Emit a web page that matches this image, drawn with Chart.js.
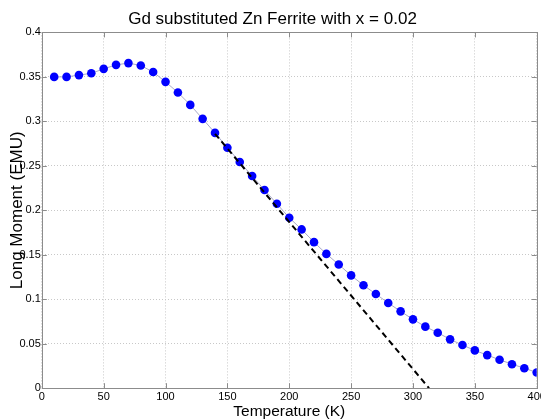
<!DOCTYPE html>
<html>
<head>
<meta charset="utf-8">
<script src="https://cdn.jsdelivr.net/npm/chart.js@4/dist/chart.umd.min.js"></script>
<style>
html,body{margin:0;padding:0;background:#fff;}
#wrap{width:541px;height:420px;position:relative;}
</style>
</head>
<body>
<div id="wrap"><canvas id="c" width="541" height="420"></canvas></div>
<script>
const temperatures = [10,20,30,40,50,60,70,80,90,100,110,120,130,140,150,160,170,180,190,200,210,220,230,240,250,260,270,280,290,300,310,320,330,340,350,360,370,380,390,400];
const moments = [0.350,0.350,0.352,0.354,0.359,0.3635,0.3655,0.3628,0.3554,0.3444,0.3324,0.3185,0.3028,0.287,0.2704,0.2543,0.2385,0.2228,0.2073,0.1916,0.1785,0.1642,0.151,0.139,0.1268,0.1157,0.1059,0.0958,0.0864,0.0774,0.0692,0.0624,0.0549,0.0485,0.0425,0.0372,0.032,0.027,0.0225,0.0177];
const fitX = [140, 313];
const fitY = [0.286, 0];
const xTicks = [0,50,100,150,200,250,300,350,400];
const yTicks = [0,0.05,0.1,0.15,0.2,0.25,0.3,0.35,0.4];
const titleText = 'Gd substituted Zn Ferrite with x = 0.02';
const xTitle = 'Temperature (K)';
const yTitle = 'Long Moment (EMU)';

const FONT = "'Liberation Sans', Arial, sans-serif";

const framePlugin = {
  id: 'frame',
  afterDatasetsDraw(chart) {
    const {ctx, chartArea: a} = chart;
    ctx.save();
    ctx.strokeStyle = '#8c8c8c';
    ctx.lineWidth = 1;
    ctx.strokeRect(Math.round(a.left)+0.5, Math.round(a.top)+0.5, Math.round(a.right-a.left), Math.round(a.bottom-a.top));
    const xs = chart.scales.x, ys = chart.scales.y;
    ctx.beginPath();
    xTicks.forEach(v => {
      const px = Math.round(xs.getPixelForValue(v))+0.5;
      ctx.moveTo(px, a.top); ctx.lineTo(px, a.top+5);
      ctx.moveTo(px, a.bottom); ctx.lineTo(px, a.bottom-5);
    });
    yTicks.forEach(v => {
      const py = Math.round(ys.getPixelForValue(v))+0.5;
      ctx.moveTo(a.left, py); ctx.lineTo(a.left+5, py);
      ctx.moveTo(a.right, py); ctx.lineTo(a.right-5, py);
    });
    ctx.stroke();
    ctx.restore();
  }
};

new Chart(document.getElementById('c'), {
  type: 'scatter',
  data: {
    datasets: [
      {
        data: temperatures.map((t, i) => ({x: t, y: moments[i]})),
        showLine: true,
        borderColor: '#a8a8c8',
        borderWidth: 1,
        pointRadius: 4.3,
        pointBackgroundColor: '#0000ff',
        pointBorderColor: '#0000ff',
        pointBorderWidth: 0,
        order: 2
      },
      {
        data: fitX.map((t, i) => ({x: t, y: fitY[i]})),
        showLine: true,
        borderColor: '#000000',
        borderWidth: 2,
        borderDash: [6, 4],
        pointRadius: 0,
        order: 1
      }
    ]
  },
  options: {
    responsive: false,
    animation: false,
    devicePixelRatio: 1,
    layout: {padding: {left: 7, right: 3, top: 0, bottom: 0}},
    plugins: {
      legend: {display: false},
      tooltip: {enabled: false},
      title: {
        display: true,
        text: titleText,
        color: '#000',
        font: {family: FONT, size: 17, weight: 'normal'},
        padding: {top: 9, bottom: 3}
      }
    },
    scales: {
      x: {
        type: 'linear',
        min: 0, max: 400,
        afterBuildTicks: s => { s.ticks = xTicks.map(v => ({value: v})); },
        afterFit: s => { s.paddingRight = 0; },
        ticks: {color: '#000', font: {family: FONT, size: 11}, padding: 2, maxRotation: 0, callback: v => String(v)},
        grid: {color: '#c8c8c8', lineWidth: 1, drawTicks: false, tickLength: 0},
        border: {display: false, dash: [1, 2]},
        title: {display: true, text: xTitle, color: '#000', font: {family: FONT, size: 15.5}, padding: {top: -3, bottom: -1}}
      },
      y: {
        type: 'linear',
        min: 0, max: 0.4,
        afterBuildTicks: s => { s.ticks = yTicks.map(v => ({value: v})); },
        ticks: {color: '#000', font: {family: FONT, size: 11}, padding: 1, callback: v => String(v)},
        grid: {color: '#c8c8c8', lineWidth: 1, drawTicks: false, tickLength: 0},
        border: {display: false, dash: [1, 2]},
        title: {display: true, text: yTitle, color: '#000', font: {family: FONT, size: 17}, padding: {top: 0, bottom: -9}}
      }
    }
  },
  plugins: [framePlugin]
});
</script>
</body>
</html>
